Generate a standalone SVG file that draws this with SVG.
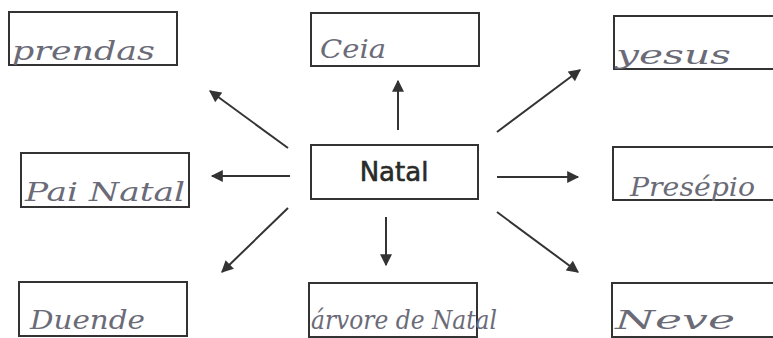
<svg xmlns="http://www.w3.org/2000/svg" width="773" height="338" viewBox="0 0 773 338">
<style>
.box{fill:none;stroke:#333;stroke-width:2}
.hw{font-family:"DejaVu Serif","Liberation Serif",serif;font-style:italic;fill:#6b6b78;font-size:26px}
.main{font-family:"DejaVu Sans","Liberation Sans",sans-serif;font-size:26px;fill:#2a2a2a;stroke:#2a2a2a;stroke-width:0.6}
.con{stroke:#333;stroke-width:2;fill:none;marker-end:url(#ah)}
</style>
<defs>
<marker id="ah" viewBox="0 0 10 10" refX="9" refY="5" markerWidth="13" markerHeight="12" orient="auto" markerUnits="userSpaceOnUse">
<path d="M0,0 L10,5 L0,10 z" fill="#333"/>
</marker>
</defs>
<rect width="773" height="338" fill="#fff"/>
<g id="connectors">
<line class="con" x1="288" y1="148" x2="210" y2="91"/>
<line class="con" x1="398" y1="130" x2="398" y2="81"/>
<line class="con" x1="497" y1="132" x2="580" y2="70"/>
<line class="con" x1="290" y1="176" x2="212" y2="176"/>
<line class="con" x1="497" y1="177" x2="578" y2="177"/>
<line class="con" x1="288" y1="208" x2="222" y2="272"/>
<line class="con" x1="386" y1="217" x2="386" y2="265"/>
<line class="con" x1="497" y1="212" x2="578" y2="272"/>
</g>
<g id="natal">
<rect class="box" x="311" y="145" width="167" height="54"/>
<text class="main" x="394" y="181" text-anchor="middle">Natal</text>
</g>
<g id="prendas">
<rect class="box" x="9" y="12" width="168" height="53"/>
<text class="hw" x="12" y="60" textLength="143" lengthAdjust="spacingAndGlyphs">prendas</text>
</g>
<g id="ceia">
<rect class="box" x="311" y="13" width="168" height="53"/>
<text class="hw" x="320" y="58" textLength="66" lengthAdjust="spacingAndGlyphs">Ceia</text>
</g>
<g id="jesus">
<rect class="box" x="614" y="16" width="168" height="53"/>
<text class="hw" x="616" y="64" textLength="115" lengthAdjust="spacingAndGlyphs">yesus</text>
</g>
<g id="painatal">
<rect class="box" x="21" y="153" width="168" height="54"/>
<text class="hw" x="25" y="201" textLength="160" lengthAdjust="spacingAndGlyphs">Pai Natal</text>
</g>
<g id="presepio">
<rect class="box" x="613" y="147" width="168" height="53"/>
<text class="hw" x="630" y="196" textLength="125" lengthAdjust="spacingAndGlyphs">Presépio</text>
</g>
<g id="duende">
<rect class="box" x="19" y="282" width="168" height="54"/>
<text class="hw" x="30" y="329" textLength="115" lengthAdjust="spacingAndGlyphs">Duende</text>
</g>
<g id="arvore">
<rect class="box" x="309" y="283" width="168" height="54"/>
<text class="hw" x="311" y="329" textLength="186" lengthAdjust="spacingAndGlyphs">árvore de Natal</text>
</g>
<g id="neve">
<rect class="box" x="612" y="283" width="168" height="54"/>
<text class="hw" x="615" y="329" textLength="120" lengthAdjust="spacingAndGlyphs">Neve</text>
</g>
</svg>
